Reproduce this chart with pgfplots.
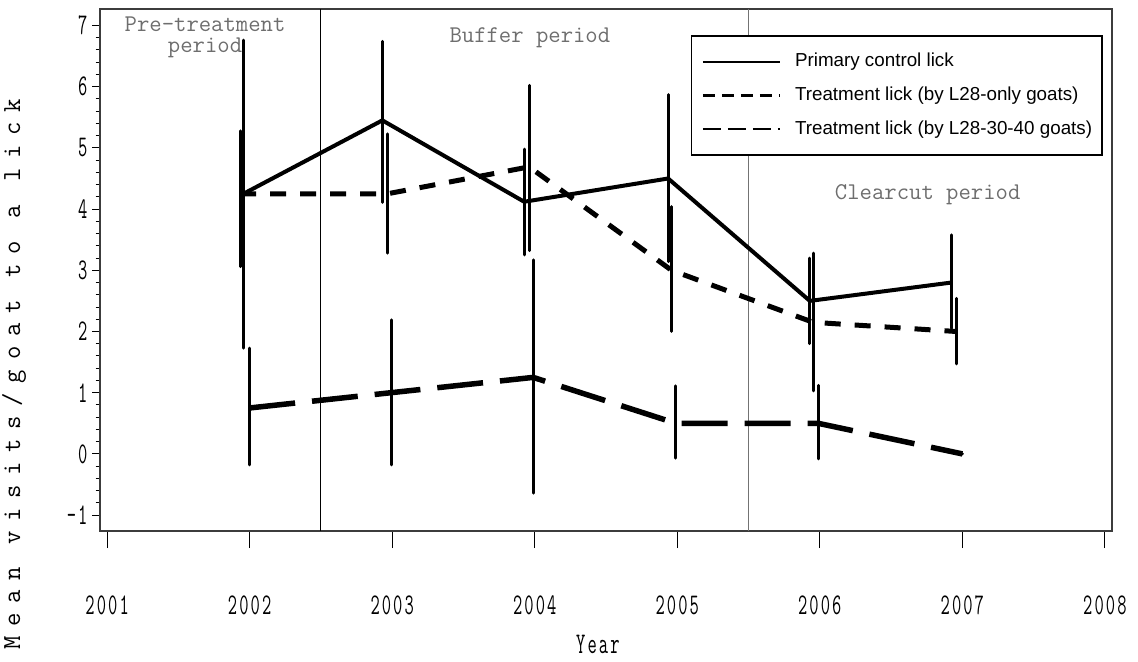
\documentclass[border=0pt]{standalone}
\usepackage{fontspec}
\setmainfont{Liberation Sans}
\newfontfamily\tickfont[FakeStretch=0.6,LetterSpace=7]{Latin Modern Mono}
\newfontfamily\titlefont[LetterSpace=37]{Latin Modern Mono}
\newfontfamily\periodfont{Latin Modern Mono}
\usepackage{pgfplots}
\pgfplotsset{compat=1.18}
\usepackage{pgfplotstable}

\definecolor{periodgray}{RGB}{110,110,110}
\definecolor{boxgray}{RGB}{60,60,60}

% year, mean, upper and lower half-width of the interval
\pgfplotstableread{
x y ep em
2001.956 4.25 2.51 2.52
2002.931 5.45 1.29 1.34
2003.926 4.12 0.86 0.87
2004.936 4.50 1.37 1.36
2005.930 2.50 0.70 0.70
2006.924 2.80 0.78 0.75
}\primary

\pgfplotstableread{
x y ep em
2001.933 4.25 1.03 1.19
2002.966 4.25 0.98 0.97
2003.961 4.69 1.33 1.37
2004.960 3.00 1.04 1.00
2005.953 2.15 1.13 1.12
2006.958 2.00 0.54 0.53
}\lonly

\pgfplotstableread{
x y ep em
2001.998 0.75 0.98 0.93
2002.992 1.00 1.19 1.18
2003.989 1.25 1.92 1.89
2004.990 0.50 0.61 0.57
2005.988 0.50 0.62 0.58
2007.000 0.00 0.00 0.00
}\lmulti

\begin{document}
\begin{tikzpicture}
\path[use as bounding box] (-50pt,-65.5pt) rectangle (519pt,265.5pt);
\begin{axis}[
  at={(0,0)}, anchor=south west,
  scale only axis, width=506pt, height=261pt,
  xmin=2000.95, xmax=2008.05, ymin=-1.26, ymax=7.27,
  axis line style={line width=0.75pt, draw=boxgray},
  tick align=outside, tick pos=left,
  xtick={2001,2002,2003,2004,2005,2006,2007,2008},
  xticklabels={2001,2002,2003,2004,2005,2006,2007,2008},
  ytick={-1,0,1,2,3,4,5,6,7},
  yticklabels={-1,0,1,2,3,4,5,6,7},
  minor y tick num=4,
  xtick style={/pgfplots/major tick length=8.5pt, line width=0.5pt, black},
  ytick style={/pgfplots/major tick length=4pt, /pgfplots/minor tick length=2.2pt, line width=0.5pt, black},
  xticklabel style={font=\tickfont\fontsize{15}{16}\selectfont, anchor=center, yshift=-33pt},
  yticklabel style={font=\tickfont\fontsize{15}{16}\selectfont, anchor=east, xshift=1.5pt},
  ylabel={Mean visits/goat to a lick},
  ylabel style={at={(axis description cs:-0.085,0.300)}, anchor=center,
    font=\titlefont\fontsize{13}{15}\selectfont},
  xlabel={Year},
  xlabel style={at={(axis description cs:0.492,-0.218)}, anchor=center,
    font=\tickfont\fontsize{15}{16}\selectfont},
  legend style={at={(axis description cs:0.991,0.950)}, anchor=north east,
    draw=black, line width=0.75pt, fill=white,
    font=\fontsize{9.4}{11}\selectfont,
    inner xsep=5pt, inner ysep=8.5pt, row sep=7.8pt,
    nodes={inner sep=0pt, text height=7pt, text depth=2pt}},
  legend cell align=left,
  legend image code/.code={\draw[#1] (0pt,0pt) -- (38.5pt,0pt); \path (45.5pt,0pt);},
]
% legend samples
\addlegendimage{black, line width=1.25pt}
\addlegendentry{Primary control lick}
\addlegendimage{black, line width=1.25pt, dash pattern=on 6pt off 3.5pt}
\addlegendentry{Treatment lick (by L28-only goats)}
\addlegendimage{black, line width=1.25pt, dash pattern=on 9pt off 3.5pt}
\addlegendentry{Treatment lick (by L28-30-40 goats)}

% period boundaries
\addplot[forget plot, black, line width=0.5pt] coordinates {(2002.5,-1.26) (2002.5,7.27)};
\addplot[forget plot, black!55, line width=0.5pt] coordinates {(2005.5,-1.26) (2005.5,7.27)};

% mean lines
\addplot[forget plot, black, line width=2pt, line join=round] table[x=x,y=y] {\primary};
\addplot[forget plot, black, line width=2.5pt, dash pattern=on 8pt off 7pt] table[x=x,y=y] {\lonly};
\addplot[forget plot, black, line width=2.75pt, dash pattern=on 23pt off 8.5pt] table[x=x,y=y] {\lmulti};

% intervals
\addplot[forget plot, draw=none, mark=none,
  error bars/.cd, y dir=both, y explicit, error mark=none,
  error bar style={draw=black, solid, line width=1.5pt, line cap=round}]
  table[x=x,y=y,y error plus=ep,y error minus=em] {\primary};
\addplot[forget plot, draw=none, mark=none,
  error bars/.cd, y dir=both, y explicit, error mark=none,
  error bar style={draw=black, solid, line width=1.5pt, line cap=round}]
  table[x=x,y=y,y error plus=ep,y error minus=em] {\lonly};
\addplot[forget plot, draw=none, mark=none,
  error bars/.cd, y dir=both, y explicit, error mark=none,
  error bar style={draw=black, solid, line width=1.5pt, line cap=round}]
  table[x=x,y=y,y error plus=ep,y error minus=em] {\lmulti};

% period names
\node[font=\periodfont\fontsize{12}{10.5}\selectfont, text=periodgray, align=center]
  at (axis cs:2001.687,6.81) {Pre-treatment\\period};
\node[font=\periodfont\fontsize{12}{10.5}\selectfont, text=periodgray]
  at (axis cs:2003.966,6.80) {Buffer period};
\node[font=\periodfont\fontsize{12}{10.5}\selectfont, text=periodgray]
  at (axis cs:2006.757,4.23) {Clearcut period};
\end{axis}
\end{tikzpicture}
\end{document}
